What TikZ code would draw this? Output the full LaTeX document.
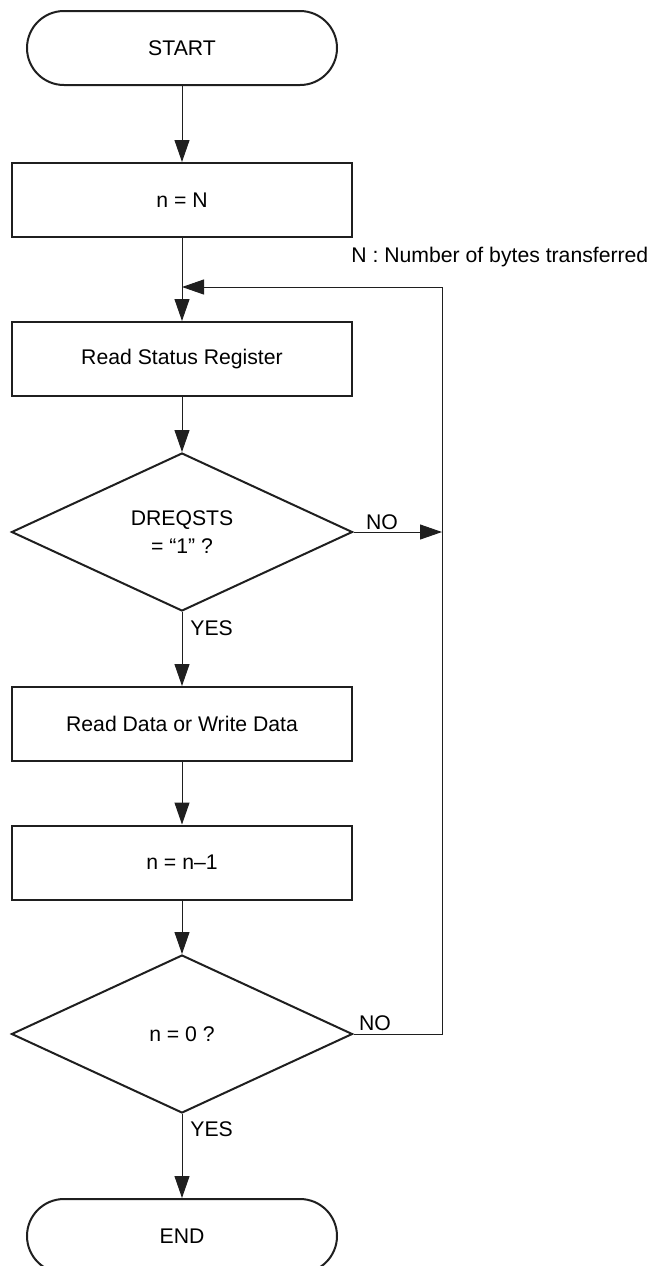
\documentclass[tikz,border=0pt]{standalone}
\usepackage{fontspec}
\setmainfont{Liberation Sans}
\usetikzlibrary{arrows.meta,shapes.geometric}
\begin{document}
\begin{tikzpicture}[x=0.5pt,y=-0.5pt,
  font=\fontsize{10.6pt}{14pt}\selectfont,
  box/.style={draw=black!88, line width=1pt, minimum width=170pt, minimum height=37pt, inner sep=0pt},
  term/.style={box, minimum width=155pt, rounded corners=18.5pt},
  dec/.style={diamond, aspect=2, draw=black!88, line width=1pt, minimum width=170.5pt, minimum height=79pt, inner sep=0pt, align=center},
  arr/.style={line width=0.5pt, draw=black!88, -{Triangle[length=11pt,width=7.5pt]}},
  lbl/.style={inner sep=0pt}
]
\useasboundingbox (0,0) rectangle (653,1266);
\clip (0,0) rectangle (653,1266);

\node[term] (start) at (182,48) {START};
\node[box] (nN) at (182,200) {n = N};
\node[lbl, anchor=base west] (note) at (351,262) {N : Number of bytes transferred};
\node[box] (rsr) at (182,359) {Read Status Register};
\node[dec] (d1) at (182,532) {DREQSTS\\= “1” ?};
\node[box] (rd) at (182,724) {Read Data or Write Data};
\node[box] (nm1) at (182,862.5) {n = n–1};
\node[dec] (d2) at (182,1034) {n = 0 ?};
\node[term] (end) at (182,1236) {END};

\node[lbl] (no1) at (382,522) {NO};
\node[lbl, anchor=west] (yes1) at (190,628) {YES};
\node[lbl] (no2) at (375,1023) {NO};
\node[lbl, anchor=west] (yes2) at (190,1129) {YES};

\coordinate (r1) at (442,532);
\coordinate (r2) at (442,1034);
\coordinate (rtop) at (442,287);
\coordinate (join) at (182,287);

\draw[arr] (start) -- (nN);
\draw[arr] (nN) -- (rsr);
\draw[arr] (rsr) -- (d1);
\draw[arr] (d1) -- (rd);
\draw[arr] (rd) -- (nm1);
\draw[arr] (nm1) -- (d2);
\draw[arr] (d2) -- (end);
\draw[arr] (d1.east) -- (r1);
\draw[arr] (d2.east) -- (r2) -- (rtop) -- (join);
\end{tikzpicture}
\end{document}
